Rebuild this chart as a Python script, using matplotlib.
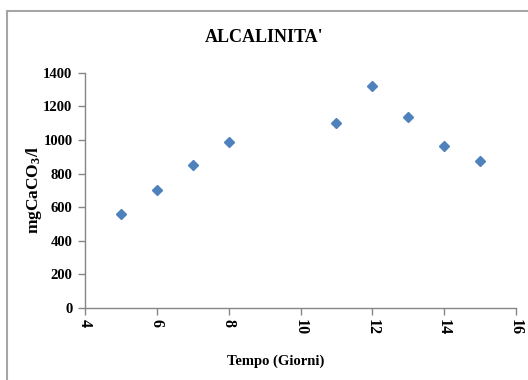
import matplotlib
matplotlib.use("Agg")
import matplotlib.pyplot as plt
from matplotlib.patches import Rectangle

days = [5, 6, 7, 8, 11, 12, 13, 14, 15]
alkalinity = [560, 705, 850, 990, 1100, 1320, 1135, 965, 875]
x_ticks = [4, 6, 8, 10, 12, 14, 16]
y_ticks = [0, 200, 400, 600, 800, 1000, 1200, 1400]

plt.rcParams.update(
    {
        "font.family": "Liberation Serif",
        "font.weight": "bold",
        "mathtext.fontset": "custom",
        "mathtext.rm": "Liberation Serif:bold",
        "mathtext.it": "Liberation Serif:bold",
        "mathtext.bf": "Liberation Serif:bold",
    }
)

fig = plt.figure(figsize=(5.28, 3.8), dpi=100)
ax = fig.add_axes([85 / 528, 1 - 308 / 380, 431 / 528, 235.3 / 380])

# chart frame
fig.patches.append(
    Rectangle((7 / 528, -0.05), 1.2, 1 - 10.5 / 380 + 0.05, transform=fig.transFigure,
              fill=False, edgecolor="#a6a6a6", linewidth=1.5, zorder=0)
)

ax.plot(days, alkalinity, linestyle="none", marker="D", markersize=5.2,
        color="#4f81bd", markeredgecolor="#4f81bd")

ax.set_xlim(4, 16)
ax.set_ylim(0, 1400)
ax.set_xticks(x_ticks)
ax.set_yticks(y_ticks)
ax.set_xticklabels([str(t) for t in x_ticks], rotation=-90, fontsize=11.5, fontweight="bold")
ax.set_yticklabels([str(t) for t in y_ticks], fontsize=10.5, fontweight="bold")

for side in ("top", "right"):
    ax.spines[side].set_visible(False)
for side in ("left", "bottom"):
    ax.spines[side].set_color("#868686")
    ax.spines[side].set_linewidth(1.0)
ax.tick_params(axis="both", colors="#868686", labelcolor="black", length=5, width=1.0)
ax.tick_params(axis="y", pad=4)
ax.tick_params(axis="x", pad=3)

fig.text(264 / 528, 1 - 37 / 380, "ALCALINITA'", ha="center", va="center",
         fontsize=13, fontweight="bold")
fig.text(276 / 528, 1 - 361 / 380, "Tempo (Giorni)", ha="center", va="center",
         fontsize=10.5, fontweight="bold")
fig.text(34 / 528, 1 - 190 / 380, "mgCaCO$_3$/l", ha="center", va="center",
         rotation=90, fontsize=12.5, fontweight="bold")

fig.savefig("out.png", dpi=100)
